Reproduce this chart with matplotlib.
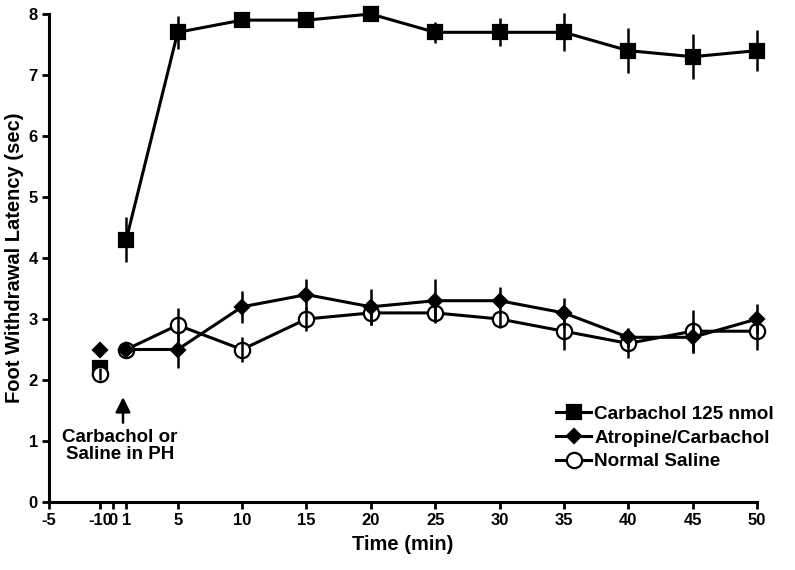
import matplotlib.pyplot as plt
import numpy as np

plt.rcParams['font.family'] = ['Liberation Sans', 'DejaVu Sans']
plt.rcParams['font.weight'] = 'bold'

# time points after injection (min); baseline (-10 min) is drawn at x=-1
times = [1, 5, 10, 15, 20, 25, 30, 35, 40, 45, 50]
base_pos = -1

carb = [4.3, 7.7, 7.9, 7.9, 8.0, 7.7, 7.7, 7.7, 7.4, 7.3, 7.4]
carb_err = [0.37, 0.27, 0.08, 0.08, 0.08, 0.17, 0.23, 0.31, 0.37, 0.37, 0.33]
carb_base, carb_base_err = 2.2, 0.05

atro = [2.5, 2.5, 3.2, 3.4, 3.2, 3.3, 3.3, 3.1, 2.7, 2.7, 3.0]
atro_err = [0.05, 0.3, 0.26, 0.26, 0.3, 0.35, 0.22, 0.25, 0.16, 0.26, 0.24]
atro_base, atro_base_err = 2.5, 0.05

sal = [2.5, 2.9, 2.5, 3.0, 3.1, 3.1, 3.0, 2.8, 2.6, 2.8, 2.8]
sal_err = [0.05, 0.28, 0.21, 0.2, 0.2, 0.16, 0.14, 0.31, 0.24, 0.35, 0.31]
sal_base, sal_base_err = 2.1, 0.1

tick_pos = [-5, -1, 0, 1, 5, 10, 15, 20, 25, 30, 35, 40, 45, 50]
tick_lab = ['-5', '-10', '0', '1', '5', '10', '15', '20', '25', '30', '35', '40', '45', '50']

fig = plt.figure(figsize=(7.95, 5.70), dpi=100)
ax = fig.add_axes([0.0616, 0.1193, 0.8906, 0.8561])

lw = 2.2
series = [
    (carb, carb_err, carb_base, carb_base_err, 's', 'black', 10, 'Carbachol 125 nmol', 3),
    (sal, sal_err, sal_base, sal_base_err, 'o', 'white', 11, 'Normal Saline', 4),
    (atro, atro_err, atro_base, atro_base_err, 'D', 'black', 7.5, 'Atropine/Carbachol', 5),
]
handles = {}
for vals, errs, b, be, mk, fc, ms, lab, z in series:
    h, = ax.plot(times, vals, marker=mk, color='black', mfc=fc, mec='black', mew=1.6,
                 ms=ms, lw=lw, label=lab, zorder=z, clip_on=False)
    ax.plot([base_pos], [b], marker=mk, color='black', mfc=fc, mec='black', mew=1.6,
            ms=ms, lw=0, zorder=z, clip_on=False)
    eb = ax.errorbar(times + [base_pos], vals + [b], yerr=errs + [be], fmt='none',
                     ecolor='black', elinewidth=1.8, capsize=0, zorder=z + 0.5)
    for c in eb.lines[2]:
        c.set_clip_on(False)
    handles[lab] = h

ax.set_xlim(-5, 50)
ax.set_ylim(0, 8)
ax.set_xticks(tick_pos)
ax.set_xticklabels(tick_lab)
ax.set_yticks(range(0, 9))
ax.tick_params(axis='both', direction='out', length=5, width=2, labelsize=12, pad=3)
for lbl in ax.get_xticklabels() + ax.get_yticklabels():
    lbl.set_fontweight('bold')
for s in ['top', 'right']:
    ax.spines[s].set_visible(False)
for s in ['left', 'bottom']:
    ax.spines[s].set_linewidth(2.2)

ax.set_xlabel('Time (min)', fontsize=14.5, fontweight='bold', labelpad=5)
ax.set_ylabel('Foot Withdrawal Latency (sec)', fontsize=14.5, fontweight='bold', labelpad=3)

ax.annotate('', xy=(0.75, 1.72), xytext=(0.75, 1.30),
            arrowprops=dict(arrowstyle='-|>,head_length=0.5,head_width=0.25',
                            color='black', lw=1.8, mutation_scale=18, shrinkA=0, shrinkB=0))
ax.text(0.52, 0.92, 'Carbachol or\nSaline in PH', ha='center', va='center',
        fontsize=13.5, fontweight='bold', linespacing=1.05)

order = ['Carbachol 125 nmol', 'Atropine/Carbachol', 'Normal Saline']
leg = ax.legend([handles[k] for k in order], order, loc='upper left',
                bbox_to_anchor=(0.688, 0.305), bbox_transform=fig.transFigure,
                frameon=False, fontsize=13.6, handlelength=1.85, handletextpad=0.15,
                labelspacing=0.35, borderpad=0)
for t in leg.get_texts():
    t.set_fontweight('bold')

fig.savefig('out.png', dpi=100)
